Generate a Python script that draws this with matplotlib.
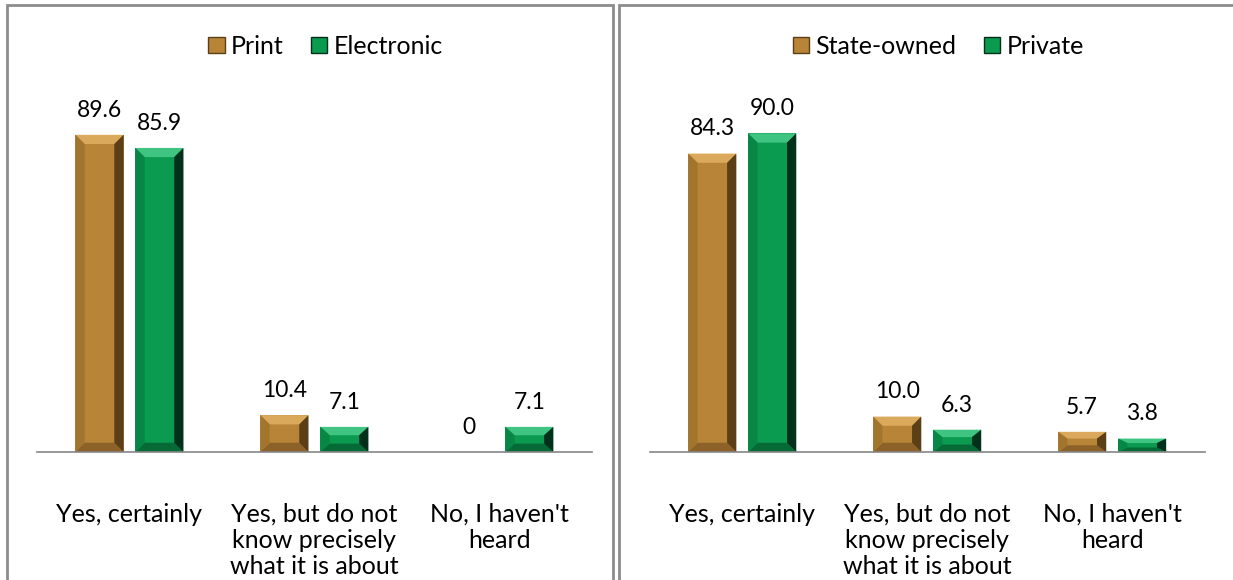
import matplotlib.pyplot as plt
from matplotlib.patches import Polygon, Rectangle
import numpy as np

plt.rcParams['font.family'] = ['Lato', 'DejaVu Sans']

categories = ["Yes, certainly", "Yes, but do not\nknow precisely\nwhat it is about", "No, I haven't\nheard"]

left_names = ["Print", "Electronic"]
print_vals = [89.6, 10.4, 0]
electronic_vals = [85.9, 7.1, 7.1]
left_labels = [["89.6", "10.4", "0"], ["85.9", "7.1", "7.1"]]

right_names = ["State-owned", "Private"]
state_vals = [84.3, 10.0, 5.7]
private_vals = [90.0, 6.3, 3.8]
right_labels = [["84.3", "10.0", "5.7"], ["90.0", "6.3", "3.8"]]

# main, top, bottom, right side, left side
gold = ['#B78438', '#DBA95C', '#8C6229', '#5A3F17', '#A2752F']
green = ['#0A9A50', '#3FC481', '#066A37', '#03301A', '#088645']

BW = 0.26
OFF = 0.162
DX = 0.05
DY = 2.6


def bevel_bar(ax, xc, h, cols):
    if h <= 0:
        return
    x0, x1 = xc - BW / 2, xc + BW / 2
    dy = min(DY, h / 3)
    ax.add_patch(Rectangle((x0, 0), BW, h, facecolor=cols[0], edgecolor='none'))
    ax.add_patch(Polygon([(x0, h), (x1, h), (x1 - DX, h - dy), (x0 + DX, h - dy)],
                         closed=True, facecolor=cols[1], edgecolor='none'))
    ax.add_patch(Polygon([(x0, 0), (x1, 0), (x1 - DX, dy), (x0 + DX, dy)],
                         closed=True, facecolor=cols[2], edgecolor='none'))
    ax.add_patch(Polygon([(x1, 0), (x1, h), (x1 - DX, h - dy), (x1 - DX, dy)],
                         closed=True, facecolor=cols[3], edgecolor='none'))
    ax.add_patch(Polygon([(x0, 0), (x0, h), (x0 + DX, h - dy), (x0 + DX, dy)],
                         closed=True, facecolor=cols[4], edgecolor='none'))


def draw_panel(ax, names, vals_a, vals_b, labels):
    x = np.arange(len(categories))
    for i in x:
        bevel_bar(ax, i - OFF, vals_a[i], gold)
        bevel_bar(ax, i + OFF, vals_b[i], green)
        ax.text(i - OFF, vals_a[i] + 4.0, labels[0][i], ha='center', va='bottom', fontsize=16.5)
        ax.text(i + OFF, vals_b[i] + 4.0, labels[1][i], ha='center', va='bottom', fontsize=16.5)
    ax.set_xlim(-0.5, 2.5)
    ax.set_ylim(0, 100)
    ax.set_xticks(x)
    ax.set_xticklabels(categories, fontsize=18, linespacing=1.16)
    ax.tick_params(axis='x', length=0, pad=36.5)
    ax.set_yticks([])
    for s in ['top', 'left', 'right']:
        ax.spines[s].set_visible(False)
    ax.spines['bottom'].set_color('#868686')
    ax.spines['bottom'].set_linewidth(1.2)
    # legend
    ha = [Rectangle((0, 0), 1, 1, facecolor=gold[0], edgecolor=gold[3], lw=1),
          Rectangle((0, 0), 1, 1, facecolor=green[0], edgecolor=green[3], lw=1)]
    ax.legend(ha, names, loc='lower center', bbox_to_anchor=(0.52, 1.05), ncol=2,
              frameon=False, fontsize=18, handlelength=0.65, handleheight=0.65,
              handletextpad=0.25, columnspacing=1.1)


fig = plt.figure(figsize=(12.33, 5.80), dpi=100)
ax1 = fig.add_axes([0.030, 0.2207, 0.450, 0.6103])
ax2 = fig.add_axes([0.527, 0.2207, 0.450, 0.6103])
draw_panel(ax1, left_names, print_vals, electronic_vals, left_labels)
draw_panel(ax2, right_names, state_vals, private_vals, right_labels)

# panel frames
W, H = 1233, 580
fig.patches.append(Rectangle((7 / W, -0.05), 606 / W, (575 / H) + 0.05, transform=fig.transFigure,
                             fill=False, edgecolor='#8C8C8C', lw=2))
fig.patches.append(Rectangle((619 / W, -0.05), 0.6, (575 / H) + 0.05, transform=fig.transFigure,
                             fill=False, edgecolor='#8C8C8C', lw=2))

fig.savefig('out.png', dpi=100)
